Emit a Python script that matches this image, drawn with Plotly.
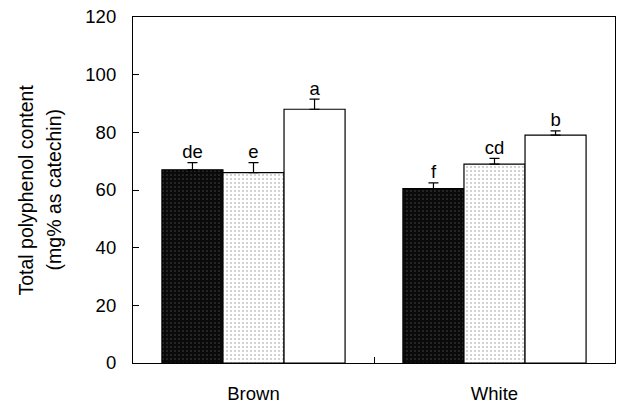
import plotly.graph_objects as go

categories = ["Brown", "White"]
series_names = ["Treatment 1", "Treatment 2", "Treatment 3"]
values = [
    [67.0, 60.5],
    [66.0, 69.0],
    [88.0, 79.0],
]
errors = [
    [2.5, 2.0],
    [3.5, 2.0],
    [3.5, 1.5],
]
letters = [
    ["de", "f"],
    ["e", "cd"],
    ["a", "b"],
]
y_ticks = [0, 20, 40, 60, 80, 100, 120]

styles = [
    dict(bg="#0a0a0a", fg="#8a8a8a", size=4, solidity=0.12),
    dict(bg="#ffffff", fg="#8f8f8f", size=4, solidity=0.22),
    dict(bg="#ffffff", fg="#ffffff", size=4, solidity=0.0),
]

FONT = "Liberation Sans, Arial, sans-serif"
fig = go.Figure()

for i in range(3):
    st = styles[i]
    fig.add_trace(go.Bar(
        x=categories, y=values[i], name=series_names[i],
        offsetgroup=str(i),
        marker=dict(
            color=st["bg"],
            line=dict(color="black", width=1.2),
            pattern=dict(shape="." if st["solidity"] > 0 else "",
                         fgcolor=st["fg"], bgcolor=st["bg"],
                         size=st["size"], solidity=st["solidity"] if st["solidity"] > 0 else 0.3),
        ),
        error_y=dict(type="data", array=errors[i], arrayminus=[0] * len(errors[i]),
                     symmetric=False, color="black", thickness=1.2, width=5),
        showlegend=False,
    ))

for i in range(3):
    tops = [v + e for v, e in zip(values[i], errors[i])]
    fig.add_trace(go.Scatter(
        x=categories, y=tops, mode="text", text=letters[i],
        textposition="top center", offsetgroup=str(i),
        textfont=dict(size=18.5, color="black", family=FONT),
        showlegend=False, hoverinfo="skip",
    ))

fig.update_layout(
    width=621, height=406,
    margin=dict(l=133, r=6, t=17, b=43),
    paper_bgcolor="white", plot_bgcolor="white",
    barmode="group", bargap=0.24, bargroupgap=0,
    scattermode="group", scattergap=0.24,
    font=dict(family=FONT, size=18.5, color="black"),
    showlegend=False,
)
fig.update_xaxes(
    type="category", showline=True, linecolor="black", linewidth=1.2, mirror=True,
    ticks="inside", tickson="boundaries", ticklen=6, tickcolor="black",
    showgrid=False, zeroline=False, ticklabelstandoff=14, automargin=False,
    tickfont=dict(size=18.5),
)
fig.update_yaxes(
    range=[0, 120], tickvals=y_ticks, showline=True, linecolor="black", linewidth=1.2,
    mirror=True, ticks="inside", ticklen=6, tickcolor="black",
    showgrid=False, zeroline=False, ticklabelstandoff=12, automargin=False,
    tickfont=dict(size=18.5),
)
fig.add_annotation(text="Total polyphenol content", textangle=-90,
                   xref="paper", yref="paper", x=-0.223, y=0.5,
                   xanchor="center", yanchor="middle", showarrow=False,
                   font=dict(size=19.5, family=FONT))
fig.add_annotation(text="(mg% as catechin)", textangle=-90,
                   xref="paper", yref="paper", x=-0.163, y=0.5,
                   xanchor="center", yanchor="middle", showarrow=False,
                   font=dict(size=19.5, family=FONT))

fig.write_html("out.html", config={"displayModeBar": False},
               post_script="document.body.style.margin='0';document.body.style.padding='0';")
